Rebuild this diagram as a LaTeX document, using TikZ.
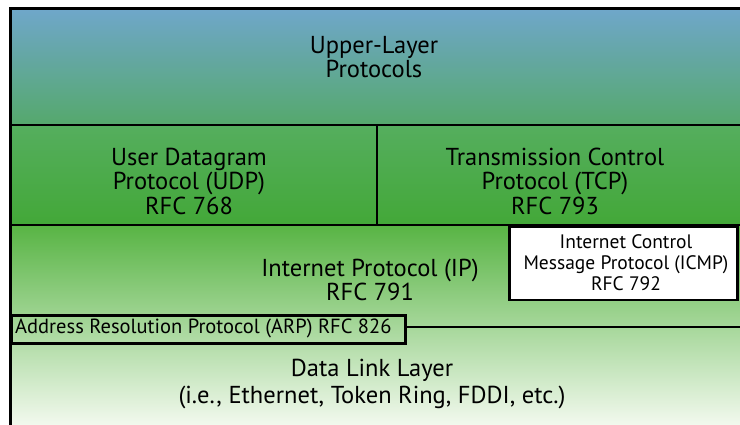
\documentclass[tikz,border=0pt]{standalone}
\usepackage{fontspec}
\setmainfont{PT Sans}
\definecolor{upA}{HTML}{6FA7CA}
\definecolor{upB}{HTML}{55A86C}
\definecolor{midA}{HTML}{55AE5E}
\definecolor{midB}{HTML}{43A838}
\definecolor{lowA}{HTML}{58B444}
\definecolor{lowM}{HTML}{A6D78B}
\definecolor{lowB}{HTML}{F2F9EE}
\tikzset{
  frame/.style={line width=3pt},
  inner/.style={line width=2.5pt},
  bigtxt/.style={align=center, font=\fontsize{24.5}{24.5}\selectfont, inner sep=0pt},
  dltxt/.style={align=center, font=\fontsize{24.5}{26.5}\selectfont, inner sep=0pt},
  smalltxt/.style={align=center, font=\fontsize{19.5}{21}\selectfont, inner sep=0pt},
  arptxtst/.style={font=\fontsize{20.5}{21}\selectfont, inner sep=0pt},
  boxed/.style={draw, line width=2.5pt, inner sep=0pt}
}
\begin{document}
\begin{tikzpicture}[x=1pt,y=-1pt]
\useasboundingbox (0,0) rectangle (740,425);
\fill[white] (0,0) rectangle (740,425);
\shade[top color=upA, bottom color=upB] (10,9) rectangle (740,125);
\shade[top color=midA, bottom color=midB] (10,125) rectangle (740,225);
\shade[top color=lowA, middle color=lowM, bottom color=lowB] (10,225) rectangle (740,425);
% lines
\draw[inner] (10,125) -- (740,125);
\draw[inner] (10,225) -- (740,225);
\draw[inner] (377,125) -- (377,225);
\draw[frame] (742,9) -- (10,9) -- (10,426);
% ICMP box
\node[boxed, fill=white, minimum width=228pt, minimum height=73pt, anchor=north west] (icmpbox) at (508,226) {};
\node[smalltxt] (icmp) at (626,263) {Internet Control\\Message Protocol (ICMP)\\RFC 792};
% ARP box
\node[boxed, minimum width=394pt, minimum height=28pt, anchor=north west] (arp) at (10,314) {};
\node[arptxtst, anchor=west] (arptxt) at (15,328) {Address Resolution Protocol (ARP) RFC 826};
\coordinate (arpend) at (740,327);
\draw[inner] (arp.east |- arpend) -- (arpend);
% texts
\node[bigtxt] (upper) at (374,57) {Upper-Layer\\Protocols};
\node[bigtxt] (udp) at (189,181) {User Datagram\\Protocol (UDP)\\RFC 768};
\node[bigtxt] (tcp) at (555,181) {Transmission Control\\Protocol (TCP)\\RFC 793};
\node[bigtxt] (ip) at (370,280) {Internet Protocol (IP)\\RFC 791};
\node[dltxt] (dl) at (372,384) {Data Link Layer\\(i.e., Ethernet, Token Ring, FDDI, etc.)};
\end{tikzpicture}
\end{document}
